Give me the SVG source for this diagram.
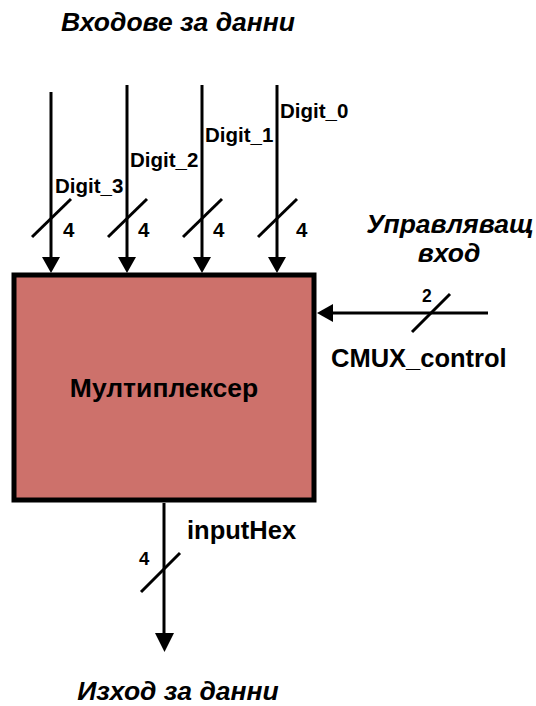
<svg xmlns="http://www.w3.org/2000/svg" width="536" height="706" viewBox="0 0 536 706">
  <style>
    .wire { stroke: #000; stroke-width: 3; fill: none; }
    .slash { stroke: #000; stroke-width: 3; fill: none; }
    .head { fill: #000; }
    .lbl { font-family: "Liberation Sans", Arial, sans-serif; font-weight: bold; fill: #000; }
    .ttl { font-family: "Liberation Sans", Arial, sans-serif; font-weight: bold; font-style: italic; fill: #000; }
  </style>
  <rect width="536" height="706" fill="#fff"/>

  <!-- section titles -->
  <text class="ttl" x="178" y="31" font-size="26.5" text-anchor="middle">Входове за данни</text>
  <text class="ttl" x="450" y="233" font-size="26.5" text-anchor="middle">Управляващ</text>
  <text class="ttl" x="449" y="262" font-size="26.5" text-anchor="middle">вход</text>
  <text class="ttl" x="178" y="700" font-size="26.5" text-anchor="middle">Изход за данни</text>

  <!-- multiplexer block -->
  <g id="mux">
    <rect x="14" y="275" width="300" height="225" fill="#CD716B" stroke="#000" stroke-width="5"/>
    <text class="lbl" x="164" y="397" font-size="26.5" text-anchor="middle">Мултиплексер</text>
  </g>

  <!-- buses -->
  <g id="connectors">
    <g id="digit3">
      <line class="wire" x1="51" y1="92" x2="51" y2="258"/>
      <polygon class="head" points="42,257 60,257 51,273"/>
      <line class="slash" x1="32" y1="237" x2="71" y2="199"/>
      <text class="lbl" x="63" y="237" font-size="20.5">4</text>
      <text class="lbl" x="55" y="193" font-size="20.5">Digit_3</text>
    </g>
    <g id="digit2">
      <line class="wire" x1="127" y1="85" x2="127" y2="258"/>
      <polygon class="head" points="118,257 136,257 127,273"/>
      <line class="slash" x1="108" y1="237" x2="147" y2="199"/>
      <text class="lbl" x="138" y="237" font-size="20.5">4</text>
      <text class="lbl" x="130" y="167" font-size="20.5">Digit_2</text>
    </g>
    <g id="digit1">
      <line class="wire" x1="202" y1="85" x2="202" y2="258"/>
      <polygon class="head" points="193,257 211,257 202,273"/>
      <line class="slash" x1="183" y1="237" x2="222" y2="199"/>
      <text class="lbl" x="213" y="237" font-size="20.5">4</text>
      <text class="lbl" x="205" y="142" font-size="20.5">Digit_1</text>
    </g>
    <g id="digit0">
      <line class="wire" x1="277" y1="85" x2="277" y2="258"/>
      <polygon class="head" points="268,257 286,257 277,273"/>
      <line class="slash" x1="258" y1="237" x2="297" y2="199"/>
      <text class="lbl" x="296" y="237" font-size="20.5">4</text>
      <text class="lbl" x="280" y="118" font-size="20.5">Digit_0</text>
    </g>
    <g id="control">
      <line class="wire" x1="488" y1="313" x2="332" y2="313"/>
      <polygon class="head" points="333,304 333,322 317,313"/>
      <line class="slash" x1="412" y1="332" x2="450" y2="294"/>
      <text class="lbl" x="422" y="302" font-size="17.5">2</text>
      <text class="lbl" x="331" y="367" font-size="25.5">CMUX_control</text>
    </g>
    <g id="output">
      <line class="wire" x1="164" y1="503" x2="164" y2="634"/>
      <polygon class="head" points="155,633 174,633 164.5,652"/>
      <line class="slash" x1="141" y1="592" x2="180" y2="553"/>
      <text class="lbl" x="139" y="565" font-size="18.5">4</text>
      <text class="lbl" x="187" y="539" font-size="25.5">inputHex</text>
    </g>
  </g>
</svg>
